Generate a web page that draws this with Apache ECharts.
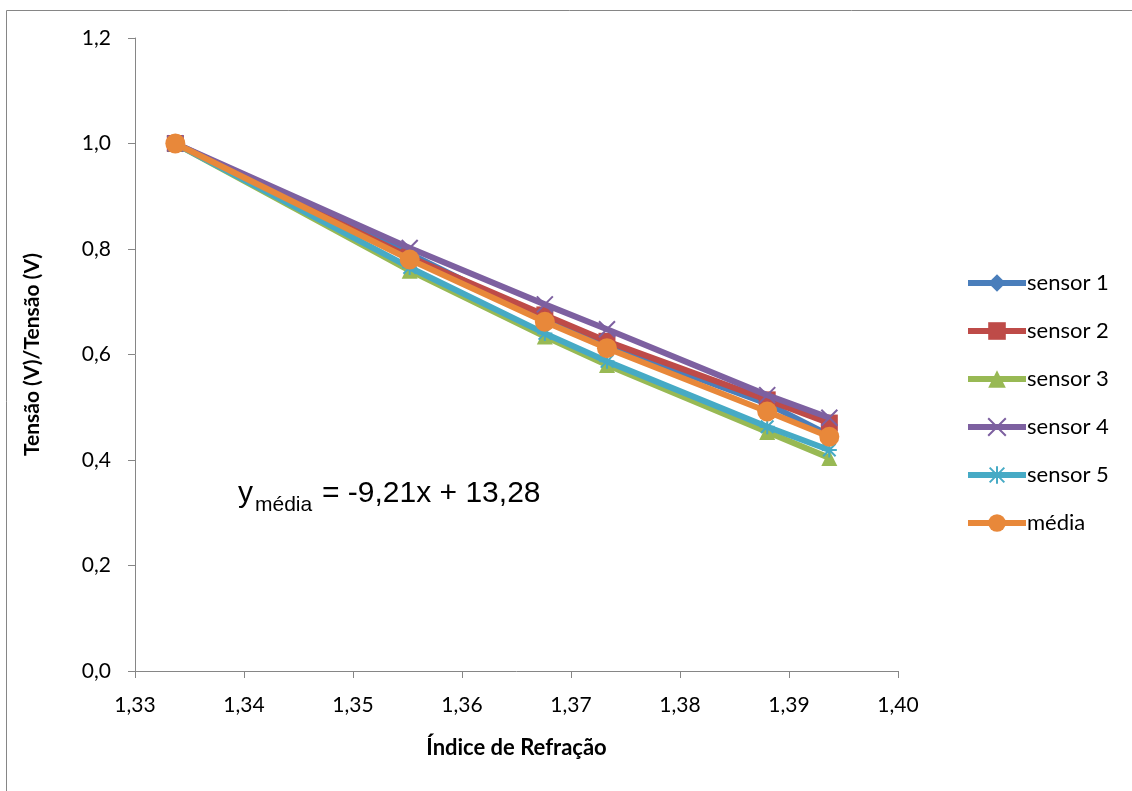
<!DOCTYPE html>
<html><head><meta charset="utf-8">
<script src="https://cdn.jsdelivr.net/npm/echarts@6/dist/echarts.min.js"></script>
<style>html,body{margin:0;padding:0;background:#fff}#c{width:1132px;height:791px}</style>
</head><body><div id="c"></div>
<script>
var xValues = [1.3337, 1.3552, 1.3676, 1.3733, 1.3880, 1.3937];
var sensor1 = [1.0, 0.791, 0.664, 0.618, 0.507, 0.447];
var sensor2 = [1.0, 0.785, 0.675, 0.625, 0.514, 0.470];
var sensor3 = [1.0, 0.759, 0.634, 0.580, 0.453, 0.404];
var sensor4 = [1.0, 0.802, 0.695, 0.648, 0.523, 0.480];
var sensor5 = [1.0, 0.765, 0.640, 0.587, 0.463, 0.419];
var media   = [1.0, 0.780, 0.662, 0.612, 0.492, 0.444];
var seriesNames = ['sensor 1','sensor 2','sensor 3','sensor 4','sensor 5','média'];
var xAxisTitle = 'Índice de Refração';
var yAxisTitle = 'Tensão (V)/Tensão (V)';
var eqMain = 'y', eqSub = 'média', eqRest = '= -9,21x + 13,28';

var colors = ['#4A7EBB','#BE4B48','#98B954','#7D60A0','#46AAC5','#E8883A'];
var symbols = ['diamond','rect','triangle','path://M0,0L10,10M10,0L0,10','path://M0,0L10,10M10,0L0,10M5,-1L5,11M-1,5L11,5','circle'];
var sizes = [16,17,16,16,15,20];
var datas = [sensor1,sensor2,sensor3,sensor4,sensor5,media];

function pairs(arr){ return arr.map(function(v,i){ return [xValues[i], v]; }); }

var series = datas.map(function(d,i){
  var strokeOnly = (i===3||i===4);
  return {
    name: seriesNames[i], type:'line', data: pairs(d),
    symbol: symbols[i], symbolSize: sizes[i],
    lineStyle:{color:colors[i], width:6},
    itemStyle: strokeOnly ? {color:colors[i], borderColor:colors[i], borderWidth:2} : {color:colors[i]},
    z: 2+i, animation:false
  };
});

var font = 'Lato, "Open Sans", sans-serif';
var eqFont = '"Liberation Sans", Arial, sans-serif';
var chart = echarts.init(document.getElementById('c'));
chart.setOption({
  animation:false,
  grid:{left:135, right:234, top:38, bottom:120},
  legend:{
    orient:'vertical', left:960, top:267, itemWidth:58, itemHeight:22, itemGap:26,
    lineStyle:{width:6},
    textStyle:{fontFamily:font, fontSize:22, color:'#000', padding:[0,0,0,-4]},
    data: seriesNames
  },
  xAxis:{
    type:'value', min:1.33, max:1.40, interval:0.01,
    name:xAxisTitle, nameLocation:'middle', nameGap:66,
    nameTextStyle:{fontFamily:font, fontSize:22, fontWeight:'bold', color:'#000'},
    axisLine:{lineStyle:{color:'#868686', width:1}},
    axisTick:{show:true, length:7, lineStyle:{color:'#868686'}},
    axisLabel:{fontFamily:font, fontSize:21, color:'#000', margin:24,
      formatter:function(v){return v.toFixed(2).replace('.',',');}},
    splitLine:{show:false}
  },
  yAxis:{
    type:'value', min:0, max:1.2, interval:0.2,
    name:yAxisTitle, nameLocation:'middle', nameGap:92, nameRotate:90,
    nameTextStyle:{fontFamily:font, fontSize:21, fontWeight:'bold', color:'#000'},
    axisLine:{show:true, lineStyle:{color:'#868686', width:1}},
    axisTick:{show:true, length:7, lineStyle:{color:'#868686'}},
    axisLabel:{fontFamily:font, fontSize:21, color:'#000', margin:24,
      formatter:function(v){return v.toFixed(1).replace('.',',');}},
    splitLine:{show:false}
  },
  graphic:[
    {type:'rect', left:4, top:8, shape:{width:1200, height:900}, style:{fill:'none', stroke:'#868686', lineWidth:1}, silent:true, z:-1},
    {type:'text', x:238, y:479, style:{text:eqMain, fontFamily:eqFont, fontSize:30, fill:'#000', verticalAlign:'top'}},
    {type:'text', x:255, y:495, style:{text:eqSub, fontFamily:eqFont, fontSize:21, fill:'#000', verticalAlign:'top'}},
    {type:'text', x:322, y:479, style:{text:eqRest, fontFamily:eqFont, fontSize:30, fill:'#000', verticalAlign:'top'}}
  ],
  series: series
});
</script></body></html>
